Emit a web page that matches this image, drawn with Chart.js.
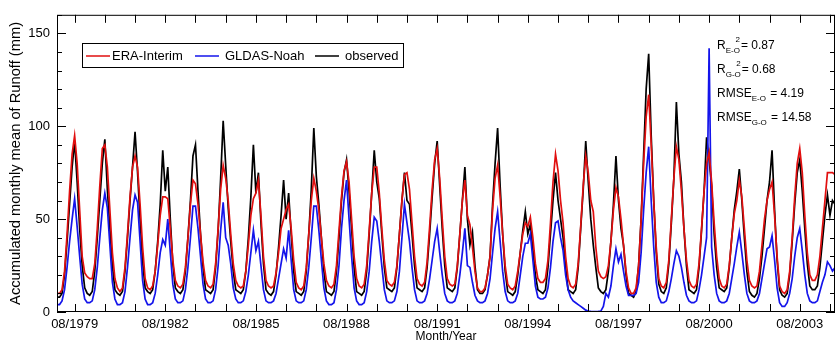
<!DOCTYPE html>
<html><head><meta charset="utf-8">
<script src="https://cdn.jsdelivr.net/npm/chart.js@4.4.0/dist/chart.umd.min.js"></script>
<style>html,body{margin:0;padding:0;background:#fff}#wrap{width:837px;height:344px}</style>
</head><body><div id="wrap"><canvas id="c" width="837" height="344"></canvas></div>
<script>
// month index 0 = Jan 1979, monthly values through Oct 2004
const startYear = 1979;
const tickLabels = ['08/1979','08/1982','08/1985','08/1988','08/1991','08/1994','08/1997','08/2000','08/2003'];
const seriesNames = ['ERA-Interim','GLDAS-Noah','observed'];
const eraInterim = [
10,10,12,22,42,65,85,95,80,55,30,21,
19,18,18,26,45,68,88,90,78,55,32,18,
13,11,13,24,42,62,78,84,78,58,35,18,
13,12,14,22,36,52,62,62,61,45,28,17,
14,13,15,24,40,58,71,69,58,42,27,17,
14,13,15,26,45,66,79,72,60,42,26,17,
14,13,14,22,36,52,61,64,71,52,30,17,
14,13,14,21,32,45,50,55,58,45,28,16,
13,12,14,24,42,60,72,65,55,40,26,17,
14,13,15,25,44,62,76,81,70,50,30,18,
14,13,15,25,44,64,78,78,64,45,28,17,
15,14,16,25,42,60,74,75,66,48,30,18,
15,14,16,27,46,66,82,88,72,50,30,18,
15,14,15,25,42,60,71,52,47,35,22,13,
11,11,13,20,30,55,72,79,62,42,25,15,
13,12,14,22,32,42,48,46,51,40,26,18,
16,16,18,28,48,70,85,76,60,48,30,18,
14,13,15,26,46,68,84,75,60,54,35,22,
19,18,19,25,38,55,67,62,50,36,22,13,
10,10,13,25,50,80,105,117,90,60,35,18,
14,13,16,28,50,72,89,82,65,45,28,17,
14,13,15,26,45,65,80,86,70,48,30,18,
14,13,15,25,40,53,60,71,62,45,28,17,
14,13,14,22,36,50,60,66,70,52,30,14,
11,10,12,22,40,62,80,88,75,52,32,20,
17,17,20,30,45,60,75,75,75,74];
const gldasNoah = [
4,4,6,12,24,38,50,61,46,30,15,7,
5,5,6,12,24,40,55,64,56,36,16,7,
4,4,5,11,24,40,55,63,59,38,17,7,
4,4,5,10,20,32,39,36,50,32,15,7,
5,5,6,12,24,40,57,57,45,30,15,7,
5,5,6,12,25,44,59,40,36,26,13,7,
5,5,6,11,20,32,44,33,38,25,12,6,
5,5,6,10,18,26,34,29,44,28,12,6,
5,5,6,12,24,40,57,57,44,28,13,6,
4,4,5,12,25,45,60,71,50,30,13,6,
4,4,5,11,22,38,51,49,38,25,12,6,
5,5,6,11,22,40,58,48,38,24,12,6,
5,5,6,10,18,28,38,45,32,20,10,6,
5,5,6,10,20,32,45,25,24,16,9,6,
5,5,6,10,18,32,45,54,38,22,11,6,
5,5,6,10,20,30,37,37,42,28,14,8,
7,7,8,13,24,38,48,49,40,33,20,12,
8,6,5,4,3,2,1,0.5,0.3,0.2,0.2,0.3,
0.5,3,10,8,14,25,34,27,31,22,14,9,
9,9,10,16,32,55,75,89,60,35,16,8,
5,5,6,11,18,26,33,30,24,16,9,6,
5,5,6,12,20,30,40,142,35,20,10,6,
5,5,6,10,18,26,35,43,32,20,10,6,
5,5,6,10,18,26,34,35,41,28,13,5,
3,3,5,10,18,30,40,45,33,20,10,6,
5,5,6,11,16,20,27,25,22,24];
const observed = [
8,8,10,20,38,58,78,92,70,45,25,13,
10,9,11,22,40,60,80,93,66,45,25,12,
10,9,11,22,40,60,78,97,75,50,27,13,
11,10,12,22,38,58,87,65,78,50,26,13,
11,10,12,22,40,60,84,90,65,42,24,12,
11,10,12,24,44,72,103,79,56,38,22,12,
11,10,12,22,40,62,90,64,75,48,26,12,
10,9,11,20,35,52,71,50,64,42,22,11,
10,9,11,22,42,66,99,73,58,40,22,11,
10,9,11,22,40,60,75,82,65,45,24,11,
10,9,11,22,42,64,87,70,61,42,24,13,
12,11,13,24,42,60,75,60,58,42,25,13,
12,11,13,24,42,62,80,92,68,45,25,13,
12,11,13,24,42,60,78,50,36,43,25,12,
10,10,12,20,30,58,80,99,68,42,22,11,
10,9,11,20,32,44,54,42,47,34,20,12,
11,10,12,24,42,60,75,60,50,40,24,12,
11,10,12,24,45,66,92,70,50,36,24,13,
11,10,12,22,38,58,84,60,45,36,20,10,
9,8,11,25,50,85,120,139,95,60,32,15,
11,10,13,26,48,72,113,85,70,45,25,12,
11,10,12,24,44,65,94,82,68,42,24,13,
12,11,13,24,40,55,65,77,60,40,22,11,
9,8,10,18,30,45,60,70,87,55,28,12,
9,8,10,20,38,58,75,82,65,45,26,14,
12,12,14,24,38,52,63,52,60,58];
const statLines = [
  {main:'R', sub:'E-O', sup:'2', rest:'= 0.87'},
  {main:'R', sub:'G-O', sup:'2', rest:'= 0.68'},
  {main:'RMSE', sub:'E-O', sup:'', rest:' = 4.19'},
  {main:'RMSE', sub:'G-O', sup:'', rest:' = 14.58'}
];
const colors = ['rgb(225,15,15)','rgb(20,20,235)','rgb(0,0,0)'];

const FONT = 'Liberation Sans, Arial, Helvetica, sans-serif';
const toPts = arr => arr.map((v,i)=>({x:i, y:v}));
const firstTick = 7; // Aug 1979

const boxTicks = {
  id:'boxTicks',
  afterDatasetsDraw(chart){
    const {ctx, chartArea:a, scales:{x, y}} = chart;
    ctx.save();
    ctx.strokeStyle = '#000'; ctx.lineWidth = 1;
    ctx.beginPath();
    for (let v=0; v<=160; v+=10){
      const py = Math.round(y.getPixelForValue(v))+0.5;
      const len = v%50===0 ? 9 : 5;
      ctx.moveTo(a.left, py); ctx.lineTo(a.left+len, py);
      ctx.moveTo(a.right, py); ctx.lineTo(a.right-len, py);
    }
    for (let m=firstTick; m<=x.max; m+=12){
      const px = Math.round(x.getPixelForValue(m))+0.5;
      ctx.moveTo(px, a.bottom); ctx.lineTo(px, a.bottom-8);
      ctx.moveTo(px, a.top); ctx.lineTo(px, a.top+8);
    }
    ctx.stroke();
    ctx.strokeRect(a.left+0.5, a.top+0.5, a.right-a.left-1, a.bottom-a.top-1);
    // legend
    const lx=82.5, ly=43.5, lw=321, lh=24;
    ctx.fillStyle='#fff'; ctx.fillRect(lx,ly,lw,lh);
    ctx.strokeStyle='#000'; ctx.lineWidth=1; ctx.strokeRect(lx,ly,lw,lh);
    ctx.font = '13px '+FONT; ctx.textBaseline='middle';
    const items=[{x:86,tx:112},{x:195,tx:225},{x:315,tx:345}];
    chart.data.datasets.forEach((d,i)=>{
      const it = items[i];
      ctx.strokeStyle=d.borderColor; ctx.lineWidth=1.5;
      ctx.beginPath(); ctx.moveTo(it.x, 56); ctx.lineTo(it.x+24, 56); ctx.stroke();
      ctx.fillStyle='#000'; ctx.fillText(d.label, it.tx, 56.5);
    });
    // statistics
    const ys=[46,70,94,118];
    statLines.forEach((s,i)=>{
      let px=717; const py=ys[i];
      ctx.font='12px '+FONT; ctx.fillStyle='#000'; ctx.textBaseline='middle';
      ctx.fillText(s.main, px, py); px += ctx.measureText(s.main).width;
      ctx.font='8px '+FONT;
      const sw = ctx.measureText(s.sub).width;
      ctx.fillText(s.sub, px, py+5);
      if (s.sup){ ctx.fillText(s.sup, px+sw*0.7, py-6); }
      px += sw + 1;
      ctx.font='12px '+FONT;
      ctx.fillText(s.rest, px, py);
    });
    ctx.restore();
  }
};

new Chart(document.getElementById('c'), {
  type:'line',
  data:{datasets:[
    {label:seriesNames[0], data:toPts(eraInterim), borderColor:colors[0], order:1},
    {label:seriesNames[1], data:toPts(gldasNoah), borderColor:colors[1], order:2},
    {label:seriesNames[2], data:toPts(observed), borderColor:colors[2], order:3}
  ]},
  options:{
    responsive:false, animation:false, devicePixelRatio:1,
    layout:{padding:{top:10,right:2,left:0,bottom:0}},
    elements:{point:{radius:0}, line:{borderWidth:1.7, tension:0}},
    plugins:{legend:{display:false}, tooltip:{enabled:false}},
    scales:{
      x:{type:'linear', min:0, max:309,
        grid:{display:false, drawTicks:false}, border:{display:false},
        afterBuildTicks(s){ s.ticks = tickLabels.map((_,i)=>({value:firstTick+36*i})); },
        afterFit(s){ s.height = 32; },
        ticks:{autoSkip:false, maxRotation:0, padding:5, color:'#000',
          font:{family:FONT,size:13},
          callback:(v,i)=>tickLabels[i]},
        title:{display:true, text:'Month/Year', color:'#000', font:{family:FONT,size:12}, padding:0}
      },
      y:{min:0, max:160,
        grid:{display:false, drawTicks:false}, border:{display:false},
        afterBuildTicks(s){ s.ticks=[0,50,100,150].map(v=>({value:v})); },
        afterFit(s){ s.width = 57; },
        ticks:{padding:7, color:'#000', font:{family:FONT,size:13}},
        title:{display:true, text:'Accumulated monthly mean of Runoff (mm)', color:'#000',
          font:{family:FONT,size:14.7}, padding:{top:7,bottom:0}}
      }
    }
  },
  plugins:[boxTicks]
});
</script></body></html>
